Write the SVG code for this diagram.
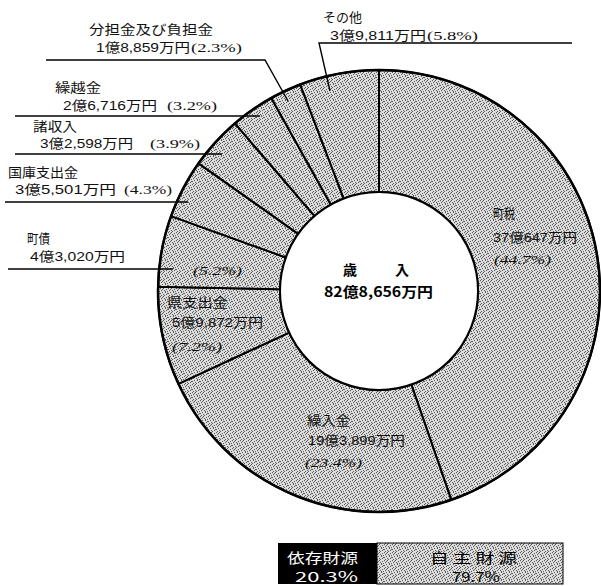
<svg xmlns="http://www.w3.org/2000/svg" width="601" height="586" viewBox="0 0 601 586">
<defs>
<pattern id="dots" width="8" height="8" patternUnits="userSpaceOnUse">
<rect width="8" height="8" fill="#dedede"/>
<g fill="#555">
<rect x="0" y="0" width="1" height="1"/><rect x="3" y="0" width="1" height="1"/><rect x="6" y="1" width="1" height="1"/>
<rect x="1" y="2" width="1" height="1"/><rect x="4" y="2" width="1" height="1"/><rect x="7" y="3" width="1" height="1"/>
<rect x="2" y="4" width="1" height="1"/><rect x="5" y="4" width="1" height="1"/><rect x="0" y="5" width="1" height="1"/>
<rect x="3" y="6" width="1" height="1"/><rect x="6" y="6" width="1" height="1"/><rect x="1" y="7" width="1" height="1"/>
<rect x="4" y="7" width="1" height="1"/><rect x="7" y="5" width="1" height="1"/><rect x="2" y="1" width="1" height="1"/>
<rect x="5" y="3" width="1" height="1"/>
</g>
</pattern>
<style>
.sl{fill:url(#dots);stroke:#000;stroke-width:2;stroke-linejoin:round}
.t{font-family:"Noto Sans CJK JP","Liberation Sans",sans-serif;font-size:13px;fill:#111}
.n{font-family:"Liberation Sans","Noto Sans CJK JP",sans-serif;font-size:13px;fill:#111}
.p{font-family:"Liberation Serif","Noto Sans CJK JP",serif;font-size:13px;fill:#111}
.b{font-family:"Noto Sans CJK JP","Liberation Sans",sans-serif;font-size:14px;font-weight:bold;fill:#000}
.ld{fill:none;stroke:#000;stroke-width:1.4}
.lw{font-family:"Noto Sans CJK JP","Liberation Sans",sans-serif;font-size:14px;fill:#fff}
.lb{font-family:"Noto Sans CJK JP","Liberation Sans",sans-serif;font-size:14px;fill:#000}
</style>
</defs>
<rect width="601" height="586" fill="#fff"/>

<g id="chouzei">
<path class="sl" d="M379,70 A221,221 0 0 1 451.24,499.87 L411.36,384.56 A99,99 0 0 0 379,192 Z"/>
<text class="t" x="493" y="218" textLength="22" lengthAdjust="spacingAndGlyphs">町税</text>
<text class="n" x="493" y="242" textLength="84" lengthAdjust="spacingAndGlyphs">37億647万円</text>
<text class="p" x="494" y="264" textLength="57" lengthAdjust="spacingAndGlyphs" font-style="italic">(44.7%)</text>
</g>
<g id="kurirekin">
<path class="sl" d="M451.24,499.87 A221,221 0 0 1 178.44,383.82 L289.16,332.58 A99,99 0 0 0 411.36,384.56 Z"/>
<text class="t" x="307" y="425" textLength="43" lengthAdjust="spacingAndGlyphs">繰入金</text>
<text class="n" x="308" y="445" textLength="97" lengthAdjust="spacingAndGlyphs">19億3,899万円</text>
<text class="p" x="305" y="467" textLength="57" lengthAdjust="spacingAndGlyphs" font-style="italic">(23.4%)</text>
</g>
<g id="kenshishutsu">
<path class="sl" d="M178.44,383.82 A221,221 0 0 1 158.04,286.83 L280.02,289.13 A99,99 0 0 0 289.16,332.58 Z"/>
<text class="t" x="167" y="307" textLength="61" lengthAdjust="spacingAndGlyphs">県支出金</text>
<text class="n" x="172" y="327" textLength="91" lengthAdjust="spacingAndGlyphs">5億9,872万円</text>
<text class="p" x="172" y="351" textLength="50" lengthAdjust="spacingAndGlyphs" font-style="italic">(7.2%)</text>
</g>
<g id="chousai">
<path class="sl" d="M158.04,286.83 A221,221 0 0 1 171.06,216.15 L285.85,257.47 A99,99 0 0 0 280.02,289.13 Z"/>
<text class="t" x="27" y="243" textLength="23" lengthAdjust="spacingAndGlyphs">町債</text>
<text class="n" x="30" y="261" textLength="95" lengthAdjust="spacingAndGlyphs">4億3,020万円</text>
<text class="p" x="193" y="275" textLength="49" lengthAdjust="spacingAndGlyphs" font-style="italic">(5.2%)</text>
</g>
<g id="kokko">
<path class="sl" d="M171.06,216.15 A221,221 0 0 1 198.58,163.39 L298.18,233.84 A99,99 0 0 0 285.85,257.47 Z"/>
<text class="t" x="8" y="177" textLength="70" lengthAdjust="spacingAndGlyphs">国庫支出金</text>
<text class="n" x="15" y="194" textLength="101" lengthAdjust="spacingAndGlyphs">3億5,501万円</text>
<text class="p" x="124" y="194" textLength="48" lengthAdjust="spacingAndGlyphs">(4.3%)</text>
</g>
<g id="shoshunyu">
<path class="sl" d="M198.58,163.39 A221,221 0 0 1 234.93,123.42 L314.46,215.93 A99,99 0 0 0 298.18,233.84 Z"/>
<text class="t" x="33" y="131" textLength="44" lengthAdjust="spacingAndGlyphs">諸収入</text>
<text class="n" x="40" y="148" textLength="93" lengthAdjust="spacingAndGlyphs" font-size="12">3億2,598万円</text>
<text class="p" x="150" y="148" textLength="50" lengthAdjust="spacingAndGlyphs">(3.9%)</text>
</g>
<g id="kurikoshi">
<path class="sl" d="M234.93,123.42 A221,221 0 0 1 271.31,98.02 L330.76,204.55 A99,99 0 0 0 314.46,215.93 Z"/>
<text class="t" x="55" y="92" textLength="46" lengthAdjust="spacingAndGlyphs">繰越金</text>
<text class="n" x="63" y="110" textLength="94" lengthAdjust="spacingAndGlyphs">2億6,716万円</text>
<text class="p" x="167" y="110" textLength="50" lengthAdjust="spacingAndGlyphs">(3.2%)</text>
</g>
<g id="buntan">
<path class="sl" d="M271.31,98.02 A221,221 0 0 1 300.24,84.52 L343.72,198.50 A99,99 0 0 0 330.76,204.55 Z"/>
<text class="t" x="89" y="34" textLength="124" lengthAdjust="spacingAndGlyphs">分担金及び負担金</text>
<text class="n" x="96" y="52" textLength="94" lengthAdjust="spacingAndGlyphs">1億8,859万円</text>
<text class="p" x="191" y="52" textLength="51" lengthAdjust="spacingAndGlyphs">(2.3%)</text>
</g>
<g id="sonota">
<path class="sl" d="M300.24,84.52 A221,221 0 0 1 379,70 L379,192 A99,99 0 0 0 343.72,198.50 Z"/>
<text class="t" x="323" y="22" textLength="39" lengthAdjust="spacingAndGlyphs">その他</text>
<text class="n" x="330" y="40" textLength="96" lengthAdjust="spacingAndGlyphs">3億9,811万円</text>
<text class="p" x="427" y="40" textLength="51" lengthAdjust="spacingAndGlyphs">(5.8%)</text>
</g>

<g id="rings" fill="none" stroke="#000">
<circle cx="379" cy="291" r="221" stroke-width="2.5"/>
<circle cx="379" cy="291" r="99" stroke-width="2" fill="#fff"/>
</g>

<g id="center">
<text class="b" x="343" y="275">歳</text>
<text class="b" x="395" y="275">入</text>
<text class="b" x="324" y="297" textLength="109" lengthAdjust="spacingAndGlyphs">82億8,656万円</text>
</g>

<g id="connectors">
<polyline class="ld" points="46,60 265,60 288,101"/>
<polyline class="ld" points="15,116 260,116"/>
<polyline class="ld" points="15,154 222,154"/>
<polyline class="ld" points="5,202 188,202"/>
<polyline class="ld" points="8,269 173,269"/>
<polyline class="ld" points="572,43 319,43 330,91"/>
</g>

<g id="legend">
<rect x="278" y="543" width="99" height="41" fill="#000"/>
<rect x="377" y="543" width="186" height="41" fill="url(#dots)" stroke="#000" stroke-width="1"/>
<text class="lw" x="287" y="563" textLength="71" lengthAdjust="spacingAndGlyphs">依存財源</text>
<text class="lw" x="295" y="582" textLength="63" lengthAdjust="spacingAndGlyphs">20.3%</text>
<text class="lb" x="430" y="563" textLength="87" lengthAdjust="spacingAndGlyphs">自 主 財 源</text>
<text class="lb" x="452" y="582" textLength="48" lengthAdjust="spacingAndGlyphs">79.7%</text>
</g>
</svg>
